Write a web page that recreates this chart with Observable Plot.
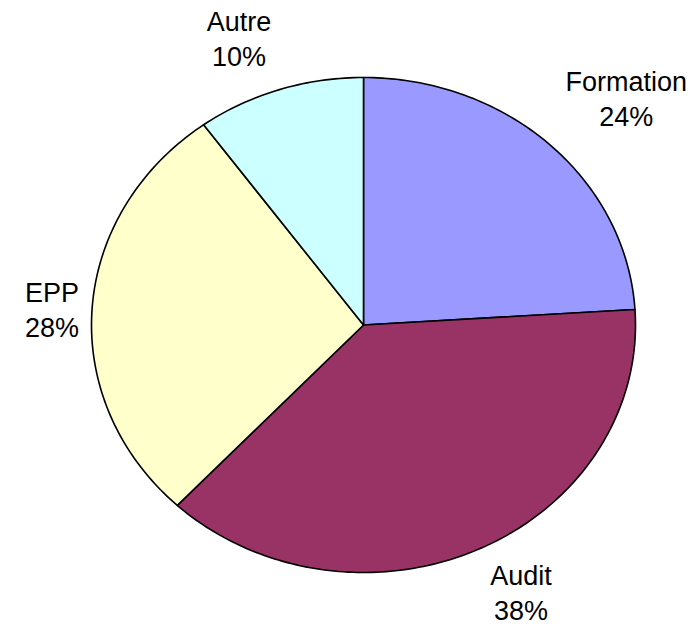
<!DOCTYPE html>
<html>
<head>
<meta charset="utf-8">
<script src="https://cdn.jsdelivr.net/npm/d3@7"></script>
<script src="https://cdn.jsdelivr.net/npm/@observablehq/plot@0.6"></script>
<style>
  html, body { margin: 0; padding: 0; background: #fff; }
  svg { display: block; }
</style>
</head>
<body>
<div id="chart"></div>
<script>
const categories = ["Formation", "Audit", "EPP", "Autre"];
const values = [24, 38, 28, 10];
const colors = ["#9999FF", "#993366", "#FFFFCC", "#CCFFFF"];

const W = 697, H = 626;
const xRange = [91, 635], yRange = [572, 77];
const rxPx = (xRange[1] - xRange[0]) / 2, ryPx = (yRange[0] - yRange[1]) / 2;
const fontFamily = "'Liberation Sans', Arial, sans-serif";
const fontSize = 27;

const total = d3.sum(values);
const pie = d3.pie().sort(null).value(d => d)(values);

// slice outlines (angles from 12 o'clock, clockwise)
const pts = [];
pie.forEach((p, i) => {
  const name = categories[i];
  pts.push({name, x: 0, y: 0});
  const n = Math.max(2, Math.ceil((p.endAngle - p.startAngle) / (Math.PI / 180)));
  for (let k = 0; k <= n; k++) {
    const a = p.startAngle + (p.endAngle - p.startAngle) * k / n;
    pts.push({name, x: Math.sin(a), y: Math.cos(a)});
  }
  pts.push({name, x: 0, y: 0});
});

// measure label widths
const ctx = document.createElement("canvas").getContext("2d");
ctx.font = `${fontSize}px ${fontFamily}`;

// label placement outside the pie at mid angle
const gapY = 25;
const labels = pie.map((p, i) => {
  const a = (p.startAngle + p.endAngle) / 2;
  const s = Math.sin(a), c = Math.cos(a);
  const pct = Math.round(values[i] / total * 100) + "%";
  const hw = Math.max(ctx.measureText(categories[i]).width, ctx.measureText(pct).width) / 2;
  const hh = c > 0 ? 29 : 20;
  const gapX = 12 + 15 * Math.abs(c);
  const px = (rxPx + gapX) * s + Math.sign(s) * hw;
  const py = (ryPx + gapY) * c + hh * Math.sign(c) * Math.min(1, Math.max(0, (Math.abs(c) - 0.1) * 2));
  return {text: categories[i] + "\n" + pct, x: px / rxPx, y: py / ryPx};
});

const chart = Plot.plot({
  width: W,
  height: H,
  margin: 0,
  x: {domain: [-1, 1], range: xRange, axis: null},
  y: {domain: [-1, 1], range: yRange, axis: null},
  color: {domain: categories, range: colors},
  style: {fontFamily, background: "#fff"},
  marks: [
    Plot.line(pts, {x: "x", y: "y", z: "name", fill: "name", stroke: "#000", strokeWidth: 1.6, strokeLinejoin: "round", curve: "linear"}),
    Plot.text(labels, {x: "x", y: "y", text: "text", fontSize, lineHeight: 1.3, fill: "#000", textAnchor: "middle", lineAnchor: "middle"})
  ]
});
document.getElementById("chart").appendChild(chart);
</script>
</body>
</html>
